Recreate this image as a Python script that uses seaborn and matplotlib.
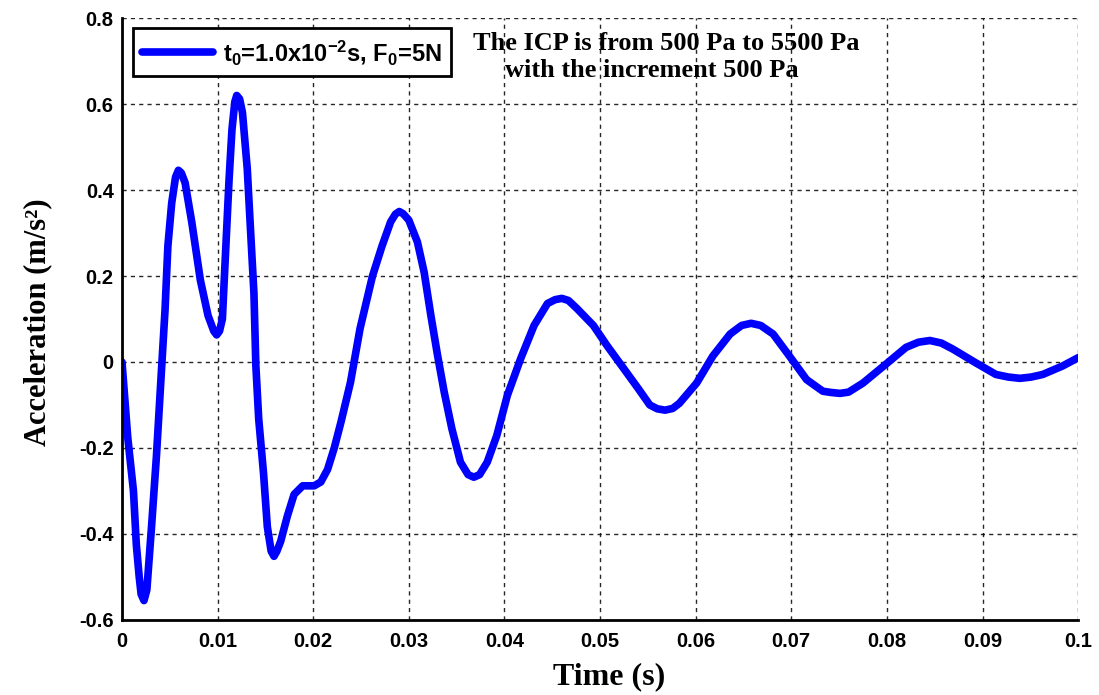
import numpy as np
import pandas as pd
import matplotlib
matplotlib.use("Agg")
import matplotlib.pyplot as plt
import seaborn as sns

# Data
time_s = [0.0, 0.0006, 0.0012, 0.0015, 0.0018, 0.0020, 0.0023, 0.0026, 0.0031, 0.0036, 0.0041,
          0.0045, 0.0048, 0.0052, 0.0056, 0.0059, 0.0062, 0.0066, 0.0073, 0.0082, 0.0090, 0.0096, 0.0099, 0.0102, 0.0105,
          0.0108, 0.0112, 0.0115, 0.0118, 0.0120, 0.0123, 0.0126, 0.0131, 0.0134, 0.0138, 0.0140, 0.0143,
          0.0148, 0.0152, 0.0156, 0.0159, 0.0162, 0.0166, 0.0173, 0.0180, 0.0189, 0.0201, 0.0208, 0.0215,
          0.0222, 0.0229, 0.0239, 0.0249, 0.0262, 0.0272, 0.0281, 0.0286, 0.0290, 0.0294, 0.0300, 0.0309,
          0.0316, 0.0323, 0.0330, 0.0337, 0.0345, 0.0354, 0.0362, 0.0368, 0.0374, 0.0382, 0.0392, 0.0403,
          0.0417, 0.0431, 0.0445, 0.0453, 0.0460, 0.0467, 0.0476, 0.0493, 0.0507, 0.0525, 0.0540, 0.0552,
          0.0560, 0.0568, 0.0576, 0.0583, 0.0601, 0.0618, 0.0636, 0.0648, 0.0658, 0.0668, 0.0681, 0.0698, 0.0716, 0.0733,
          0.0742, 0.0751, 0.0760, 0.0775, 0.0799, 0.0820, 0.0833, 0.0845, 0.0857, 0.0869, 0.0893, 0.0914,
          0.0927, 0.0939, 0.0951, 0.0963, 0.0984, 0.1000]
accel = [0.0, -0.175, -0.30, -0.425, -0.50, -0.540, -0.555, -0.53, -0.38, -0.22, -0.03,
         0.12, 0.27, 0.37, 0.43, 0.446, 0.440, 0.417, 0.325, 0.19, 0.108, 0.072, 0.063, 0.072, 0.10,
         0.24, 0.425, 0.54, 0.605, 0.620, 0.612, 0.58, 0.45, 0.325, 0.16, -0.008, -0.133,
         -0.258, -0.383, -0.44, -0.452, -0.44, -0.417, -0.358, -0.308, -0.288, -0.288, -0.279, -0.25,
         -0.20, -0.14, -0.047, 0.078, 0.20, 0.27, 0.326, 0.344, 0.350, 0.345, 0.33, 0.279,
         0.209, 0.109, 0.016, -0.070, -0.155, -0.233, -0.262, -0.268, -0.262, -0.233, -0.171, -0.078,
         0.008, 0.085, 0.136, 0.145, 0.148, 0.143, 0.124, 0.085, 0.039, -0.016, -0.062, -0.10,
         -0.109, -0.112, -0.108, -0.096, -0.049, 0.014, 0.065, 0.085, 0.090, 0.085, 0.065, 0.014, -0.041, -0.068,
         -0.071, -0.073, -0.070, -0.049, -0.005, 0.034, 0.046, 0.050, 0.044, 0.030, -0.002, -0.029,
         -0.035, -0.038, -0.035, -0.029, -0.009, 0.010]

x_ticks = [0, 0.01, 0.02, 0.03, 0.04, 0.05, 0.06, 0.07, 0.08, 0.09, 0.1]
x_ticklabels = ["0", "0.01", "0.02", "0.03", "0.04", "0.05", "0.06", "0.07", "0.08", "0.09", "0.1"]
y_ticks = [-0.6, -0.4, -0.2, 0, 0.2, 0.4, 0.6, 0.8]
y_ticklabels = ["-0.6", "-0.4", "-0.2", "0", "0.2", "0.4", "0.6", "0.8"]

legend_label = r"t$_\mathbf{0}$=1.0x10$^\mathbf{-2}$s, F$_\mathbf{0}$=5N"
note_line1 = "The ICP is from 500 Pa to 5500 Pa"
note_line2 = "with the increment 500 Pa"

df = pd.DataFrame({"Time": time_s, "Accel": accel})

sns.set_style("white")
plt.rcParams["font.family"] = ["Liberation Sans", "DejaVu Sans"]
plt.rcParams["mathtext.fontset"] = "custom"
plt.rcParams["mathtext.rm"] = "Liberation Sans:bold"
plt.rcParams["mathtext.bf"] = "Liberation Sans:bold"
plt.rcParams["mathtext.it"] = "Liberation Sans:bold"
plt.rcParams["mathtext.default"] = "bf"
for k in ["text.color", "axes.labelcolor", "xtick.color", "ytick.color", "axes.edgecolor"]:
    plt.rcParams[k] = "black"

fig = plt.figure(figsize=(10.99, 6.95), dpi=100)
ax = fig.add_axes([0.111, 0.108, 0.870, 0.866])

sns.lineplot(data=df, x="Time", y="Accel", ax=ax, color="#0000ff", linewidth=5.5,
             label=legend_label, sort=False)
for ln in ax.get_lines():
    ln.set_solid_joinstyle("round")
    ln.set_solid_capstyle("round")

ax.set_xlim(0, 0.1)
ax.set_ylim(-0.6, 0.8)
ax.set_xticks(x_ticks)
ax.set_xticklabels(x_ticklabels, fontsize=14.5, fontweight="bold")
ax.set_yticks(y_ticks)
ax.set_yticklabels(y_ticklabels, fontsize=14.5, fontweight="bold")
ax.tick_params(direction="in", length=5, width=1, colors="black")
ax.tick_params(axis="x", pad=9)
ax.tick_params(axis="y", pad=6)

ax.grid(True, color="black", linestyle=(0, (3, 3)), linewidth=1, alpha=0.85)
for side in ["top", "right"]:
    ax.spines[side].set_visible(False)
for side in ["left", "bottom"]:
    ax.spines[side].set_color("black")
    ax.spines[side].set_linewidth(2)

ax.set_xlabel("Time (s)", fontsize=23, fontweight="bold", family="Liberation Serif")
ax.set_ylabel("Acceleration (m/s²)", fontsize=22, fontweight="bold", family="Liberation Serif")
ax.xaxis.set_label_coords(0.509, -0.071)
ax.yaxis.set_label_coords(-0.073, 0.495)

leg = ax.legend(loc="upper left", bbox_to_anchor=(0.0115, 0.983), borderaxespad=0, fontsize=17,
                frameon=True, fancybox=False, handlelength=3.0, borderpad=0.40,
                handletextpad=0.4)
leg.get_frame().set_edgecolor("black")
leg.get_frame().set_linewidth(2)
leg.get_frame().set_alpha(1)
for t in leg.get_texts():
    t.set_fontweight("bold")

ax.text(0.0367, 0.741, note_line1, fontsize=19, fontweight="bold", family="Liberation Serif",
        va="center", ha="left")
ax.text(0.0401, 0.677, note_line2, fontsize=19, fontweight="bold", family="Liberation Serif",
        va="center", ha="left")

fig.savefig("out.png", dpi=100)
